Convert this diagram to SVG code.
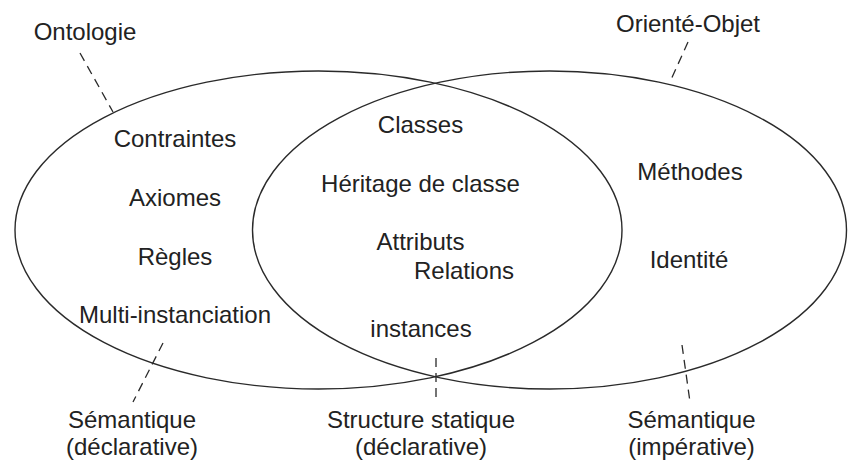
<svg xmlns="http://www.w3.org/2000/svg" width="848" height="463" viewBox="0 0 848 463">
  <style>
    .set { fill: none; stroke: #2a2a2a; stroke-width: 1.4; }
    .lead { fill: none; stroke: #2a2a2a; stroke-width: 1.3; stroke-dasharray: 9 6; }
    text { font-family: "Liberation Sans", Arial, sans-serif; font-size: 24px; fill: #222; text-anchor: middle; }
  </style>
  <rect width="848" height="463" fill="#fff"/>

  <!-- the two overlapping sets -->
  <g id="ontologie">
    <ellipse class="set" cx="318.5" cy="230" rx="303.5" ry="159"/>
    <text x="85" y="40">Ontologie</text>
    <text x="175" y="147">Contraintes</text>
    <text x="175" y="206">Axiomes</text>
    <text x="175" y="265">Règles</text>
    <text x="175" y="323">Multi-instanciation</text>
  </g>
  <g id="oriente-objet">
    <ellipse class="set" cx="549.5" cy="230" rx="297" ry="159"/>
    <text x="688" y="32">Orienté-Objet</text>
    <text x="690" y="180">Méthodes</text>
    <text x="689" y="268">Identité</text>
  </g>
  <g id="commun">
    <text x="420.5" y="133">Classes</text>
    <text x="420.5" y="192">Héritage de classe</text>
    <text x="420.5" y="250">Attributs</text>
    <text x="464" y="279">Relations</text>
    <text x="421" y="337">instances</text>
  </g>

  <!-- bottom captions -->
  <g id="semantique-declarative">
    <text x="132" y="428">Sémantique</text>
    <text x="132" y="455">(déclarative)</text>
  </g>
  <g id="structure-statique">
    <text x="421" y="428">Structure statique</text>
    <text x="421" y="455">(déclarative)</text>
  </g>
  <g id="semantique-imperative">
    <text x="691.5" y="428">Sémantique</text>
    <text x="691.5" y="455">(impérative)</text>
  </g>

  <!-- dashed leader lines -->
  <g id="connectors">
    <line class="lead" x1="80" y1="53" x2="113" y2="112"/>
    <line class="lead" x1="688" y1="42" x2="670" y2="82"/>
    <line class="lead" x1="163" y1="343" x2="133" y2="402"/>
    <line class="lead" x1="436" y1="358" x2="436" y2="402"/>
    <line class="lead" x1="682" y1="345" x2="690" y2="402"/>
  </g>
</svg>
